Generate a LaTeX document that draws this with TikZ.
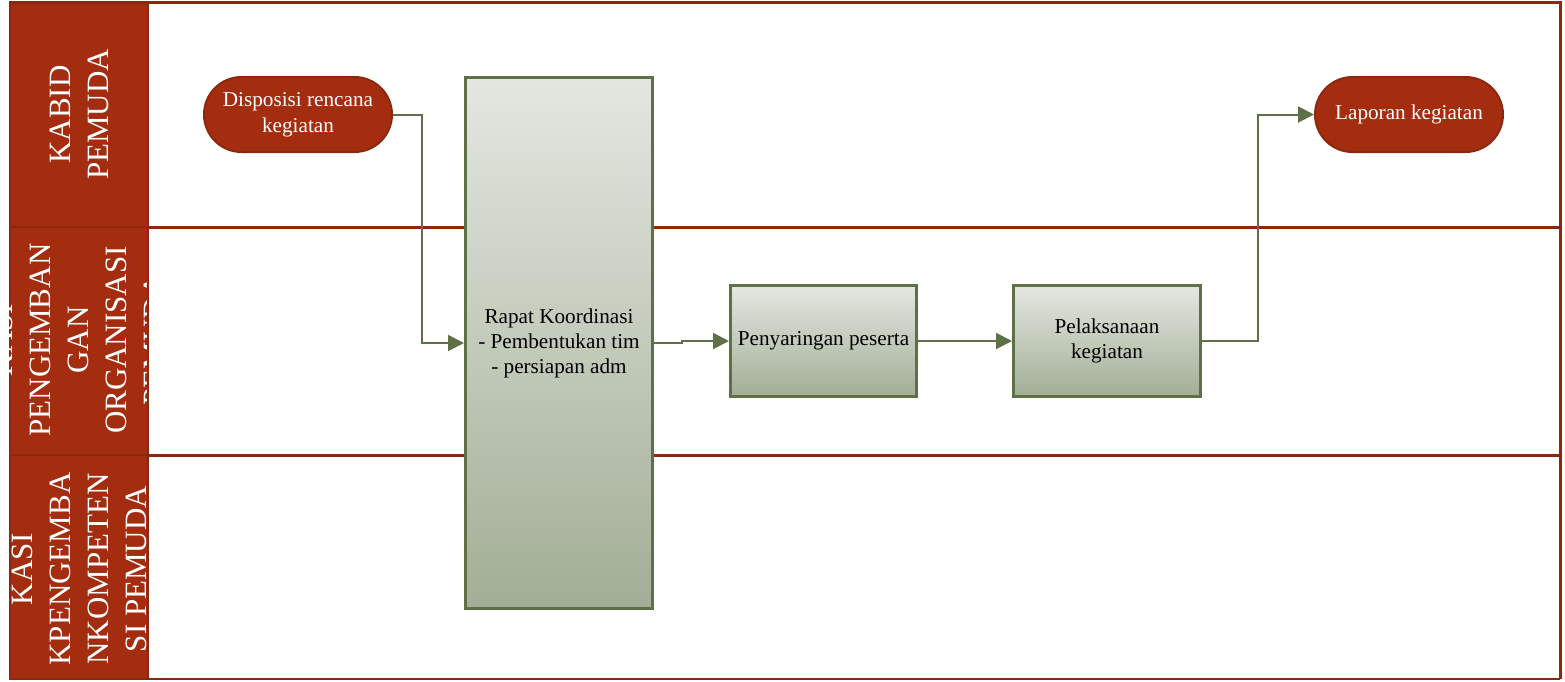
\documentclass[tikz,border=0pt]{standalone}
\usepackage{fontspec}
\setmainfont{Liberation Serif}
\usepackage{xcolor}
\usetikzlibrary{arrows.meta,shapes.misc}
\definecolor{lanered}{RGB}{164,45,16}
\definecolor{laneedge}{RGB}{139,41,15}
\definecolor{boxedge}{RGB}{95,112,72}
\definecolor{boxtop}{RGB}{228,231,225}
\definecolor{boxbot}{RGB}{162,174,149}
\tikzset{
  lanehead/.style={fill=lanered, draw=laneedge, line width=1pt},
  laneline/.style={draw=laneedge, line width=1.5pt},
  lanelabel/.style={rotate=90, text=white, align=center, font=\fontsize{15.5}{19}\selectfont},
  terminal/.style={rounded rectangle, fill=lanered, draw=laneedge, line width=1pt, text=white, align=center,
    minimum width=94pt, minimum height=37.5pt, inner sep=0pt, font=\fontsize{10.6}{12.8}\selectfont},
  process/.style={rectangle, draw=boxedge, line width=1.5pt, top color=boxtop, bottom color=boxbot,
    align=center, inner sep=0pt, font=\fontsize{10.6}{12.5}\selectfont},
  flow/.style={draw=boxedge, line width=1pt, -{Triangle[length=8pt,width=8pt]}}
}
\begin{document}
\begin{tikzpicture}[x=0.5pt,y=-0.5pt]
\useasboundingbox (0,0) rectangle (1565,681);

\begin{scope}
\draw[lanehead] (10,2) rectangle (148,227);
\draw[lanehead] (10,227) rectangle (148,455);
\draw[lanehead] (10,455) rectangle (148,679);
\node[lanelabel] (kabid) at (79,114.5) {KABID\\PEMUDA};
\node[lanelabel] (kasiorg) at (78,340) {KASI\\PENGEMBAN\\GAN\\ORGANISASI\\PEMUDA};
\node[lanelabel] (kasikomp) at (79,569) {KASI\\KPENGEMBA\\NKOMPETEN\\SI PEMUDA};
\draw[laneline] (10,2)--(1560,2)--(1560,679);
\draw[laneline] (148,227)--(1560,227);
\draw[laneline] (148,455)--(1560,455);
\draw[draw=laneedge, line width=0.7pt] (148,2)--(148,679)--(1560,679);
\end{scope}

\node[terminal] (disp) at (298,114.5) {Disposisi rencana\\kegiatan};
\node[terminal] (lap) at (1409,114.5) {Laporan kegiatan};
\node[process, minimum width=93.5pt, minimum height=265.5pt] (rapat) at (559,343) {Rapat Koordinasi\\- Pembentukan tim\\- persiapan adm};
\node[process, minimum width=93pt, minimum height=55.5pt] (saring) at (823.5,341) {Penyaringan peserta};
\node[process, minimum width=93.5pt, minimum height=55.5pt] (laks) at (1107,341) {Pelaksanaan\\kegiatan};

\draw[flow] (disp.east) -- ++(29,0) |- (rapat.west);
\draw[flow] (rapat.east) -- ++(28,0) |- (saring.west);
\draw[flow] (saring.east) -- (laks.west);
\draw[flow] (laks.east) -- ++(56,0) |- (lap.west);

\end{tikzpicture}
\end{document}
